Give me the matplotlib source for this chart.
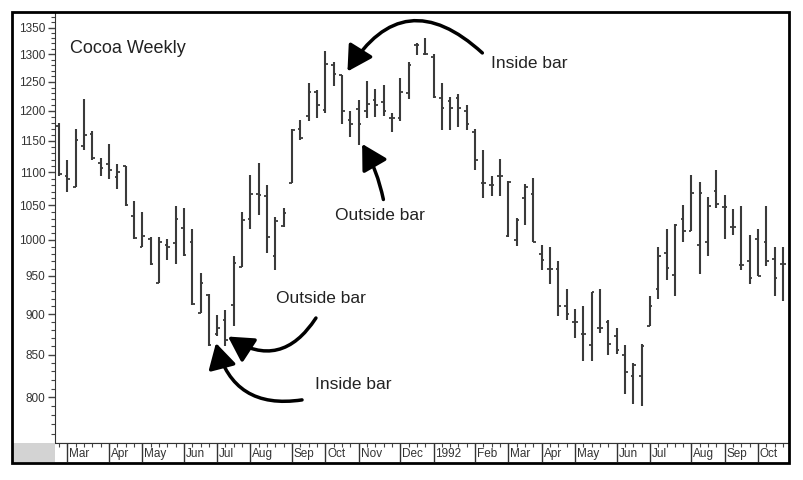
import numpy as np
import pandas as pd
import matplotlib
matplotlib.use("Agg")
import matplotlib.pyplot as plt
import matplotlib.dates as mdates
from matplotlib.patches import Rectangle
from matplotlib.ticker import FixedLocator, NullFormatter

plt.rcParams['font.family'] = ['Liberation Sans', 'DejaVu Sans']

# weekly bars, Feb 22 1991 .. Oct 23 1992 (Fridays)
weeks = pd.date_range('1991-02-22', '1992-10-23', freq='W-FRI')

opens = [1175, 1095, 1078, 1142, 1162, 1115, 1113, 1092, 1110, 1034,
         990, 1001, 940, 993, 995, 1016, 997, 902, 925, 875,
         893, 912, 962, 1030, 1066, 1063, 977, 1020, 1083, 1170,
         1191, 1233, 1202, 1280, 1262, 1185, 1203, 1200, 1219, 1215,
         1187, 1187, 1230, 1317, 1300, 1295, 1222, 1217, 1222, 1200,
         1165, 1083, 1080, 1095, 1005, 1000, 1060, 1066, 980, 960,
         960, 910, 890, 875, 861, 883, 890, 873, 849, 824,
         825, 885, 932, 981, 951, 1030, 1013, 993, 997, 1071,
         1048, 1018, 965, 970, 1001, 997, 973, 966]
highs = [1180, 1120, 1170, 1220, 1166, 1122, 1145, 1113, 1110, 1056,
         1040, 1004, 1004, 1001, 1049, 1046, 1015, 954, 926, 899,
         905, 977, 1040, 1096, 1115, 1080, 1033, 1046, 1170, 1185,
         1248, 1235, 1306, 1285, 1262, 1200, 1218, 1252, 1237, 1245,
         1197, 1257, 1285, 1320, 1330, 1300, 1248, 1224, 1228, 1210,
         1169, 1135, 1095, 1121, 1086, 1031, 1082, 1091, 993, 989,
         970, 932, 906, 910, 928, 932, 892, 883, 861, 840,
         863, 924, 990, 1015, 1023, 1050, 1096, 1085, 1062, 1104,
         1065, 1044, 1049, 1007, 1015, 1049, 989, 989]
lows = [1095, 1070, 1077, 1135, 1120, 1095, 1090, 1075, 1049, 1001,
        990, 965, 940, 972, 966, 977, 912, 901, 860, 873,
        860, 885, 962, 1015, 1036, 981, 958, 1018, 1083, 1152,
        1182, 1187, 1196, 1242, 1177, 1157, 1143, 1187, 1189, 1191,
        1165, 1182, 1220, 1298, 1298, 1222, 1167, 1167, 1173, 1167,
        1103, 1060, 1063, 1063, 1004, 991, 1021, 996, 958, 939,
        897, 892, 870, 842, 842, 876, 850, 851, 804, 793,
        790, 885, 920, 944, 924, 996, 1013, 952, 977, 1046,
        1001, 1006, 958, 939, 950, 963, 924, 917]
closes = [1097, 1090, 1152, 1160, 1122, 1106, 1104, 1100, 1050, 1003,
          1005, 966, 997, 990, 1030, 978, 913, 940, 861, 882,
          868, 968, 1028, 1066, 1065, 1004, 1027, 1038, 1168, 1154,
          1233, 1210, 1283, 1265, 1200, 1177, 1177, 1212, 1210, 1200,
          1187, 1232, 1280, 1317, 1300, 1224, 1205, 1205, 1205, 1177,
          1120, 1083, 1080, 1095, 1085, 1028, 1078, 996, 972, 960,
          910, 900, 890, 875, 928, 883, 863, 855, 829, 838,
          860, 910, 977, 961, 1021, 1013, 1068, 1068, 1049, 1052,
          1048, 1018, 965, 947, 950, 970, 947, 966]

month_labels = ['Mar', 'Apr', 'May', 'Jun', 'Jul', 'Aug', 'Sep', 'Oct', 'Nov', 'Dec',
                '1992', 'Feb', 'Mar', 'Apr', 'May', 'Jun', 'Jul', 'Aug', 'Sep', 'Oct']

y_major = [800, 850, 900, 950, 1000, 1050, 1100, 1150, 1200, 1250, 1300, 1350]

x = mdates.date2num(weeks.to_numpy())
# first weekly bar of each month (skip the lone Feb 1991 bar)
first_of_month = weeks.to_series().groupby(weeks.to_period('M')).first().iloc[1:]
month_x = mdates.date2num(first_of_month.to_numpy())

fig = plt.figure(figsize=(8.04, 4.8), dpi=100)
W, H = 804.0, 480.0

# main price panel
ax = fig.add_axes([55 / W, 1 - 443 / H, (788 - 55) / W, (443 - 12) / H])
ax.set_yscale('log')
ax.set_ylim(750, 1380)
ax.set_xlim(x[0] - 3.4, x[-1] + 4.2)

bar_col = '#3a3a3a'
ax.vlines(x, lows, highs, color=bar_col, lw=1.5)
ax.hlines(opens, x - 2.2, x, color=bar_col, lw=1.3)
ax.hlines(closes, x, x + 2.2, color=bar_col, lw=1.3)

ax.yaxis.set_major_locator(FixedLocator(y_major))
ax.set_yticklabels([str(v) for v in y_major])
minor = [v for v in range(760, 1380, 10) if v not in y_major]
ax.yaxis.set_minor_locator(FixedLocator(minor))
ax.yaxis.set_minor_formatter(NullFormatter())
ax.tick_params(axis='y', which='major', length=5, width=1, direction='out',
               labelsize=8.5, labelcolor='#333333', pad=2, color='#444444')
ax.tick_params(axis='y', which='minor', length=3, width=0.8, direction='out', color='#444444')
ax.tick_params(axis='x', bottom=False, labelbottom=False)
for s in ['top', 'right']:
    ax.spines[s].set_visible(False)
ax.spines['left'].set_color('#333333')
ax.spines['bottom'].set_color('#333333')

ax.text(0.021, 0.915, 'Cocoa Weekly', transform=ax.transAxes, fontsize=13,
        color='#222222', va='center', ha='left')

# annotations (positions in axes fraction)
astyle = dict(arrowstyle='-|>,head_length=0.8,head_width=0.45', color='black',
              lw=2.5, mutation_scale=19, shrinkA=0, shrinkB=0)
ax.annotate('', xy=(0.399, 0.862), xytext=(0.583, 0.905), xycoords='axes fraction',
            arrowprops=dict(connectionstyle='arc3,rad=0.6', **astyle))
ax.text(0.595, 0.88, 'Inside bar', transform=ax.transAxes, fontsize=12.5,
        color='#222222', va='center', ha='left')

ax.annotate('', xy=(0.419, 0.694), xytext=(0.448, 0.565), xycoords='axes fraction',
            arrowprops=dict(connectionstyle='arc3,rad=0.08', **astyle))
ax.text(0.382, 0.527, 'Outside bar', transform=ax.transAxes, fontsize=12.5,
        color='#222222', va='center', ha='left')

ax.annotate('', xy=(0.236, 0.247), xytext=(0.356, 0.29), xycoords='axes fraction',
            arrowprops=dict(connectionstyle='arc3,rad=-0.5', **astyle))
ax.text(0.3015, 0.336, 'Outside bar', transform=ax.transAxes, fontsize=12.5,
        color='#222222', va='center', ha='left')

ax.annotate('', xy=(0.2196, 0.232), xytext=(0.337, 0.1), xycoords='axes fraction',
            arrowprops=dict(connectionstyle='arc3,rad=-0.45', **astyle))
ax.text(0.355, 0.135, 'Inside bar', transform=ax.transAxes, fontsize=12.5,
        color='#222222', va='center', ha='left')

# date strip
ax2 = fig.add_axes([55 / W, 1 - 462 / H, (788 - 55) / W, (462 - 443) / H])
ax2.set_xlim(ax.get_xlim())
ax2.set_ylim(0, 1)
ax2.set_yticks([])
ax2.set_xticks(x)
ax2.tick_params(axis='x', top=True, bottom=False, labelbottom=False, direction='in',
                length=3, width=0.8, color='#444444')
ax2.vlines(month_x, 0, 1, color='#333333', lw=1)
for mx, lab in zip(month_x, month_labels):
    ax2.text(mx + 1.6, 0.42, lab, fontsize=8.5, color='#333333', va='center', ha='left')
for s in ['left', 'right', 'bottom']:
    ax2.spines[s].set_visible(False)
ax2.spines['top'].set_color('#333333')

# grey corner box and outer frame
fig.patches.append(Rectangle((13 / W, 1 - 462 / H), 42 / W, 19 / H, transform=fig.transFigure,
                             facecolor='#d3d3d3', edgecolor='none', zorder=0))
fig.patches.append(Rectangle((12 / W, 1 - 463 / H), (789 - 12) / W, (463 - 12) / H,
                             transform=fig.transFigure, fill=False, edgecolor='black',
                             lw=2, zorder=5))

fig.savefig('out.png', dpi=100)
